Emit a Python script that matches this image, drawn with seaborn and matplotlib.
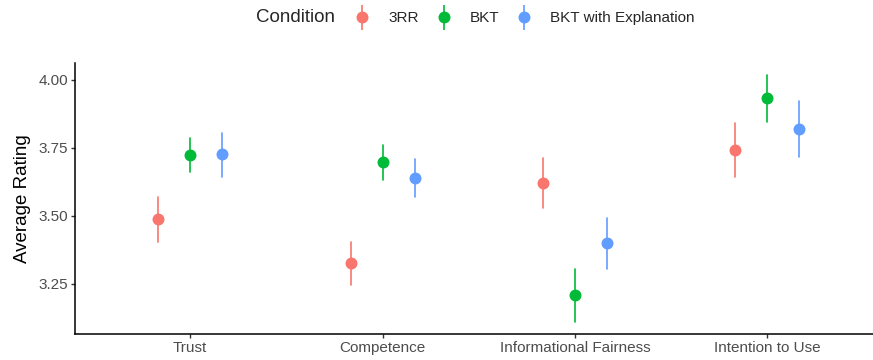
import matplotlib
matplotlib.use("Agg")
import matplotlib.pyplot as plt
from matplotlib.lines import Line2D
from matplotlib.legend_handler import HandlerTuple
import seaborn as sns
import pandas as pd

categories = ["Trust", "Competence", "Informational Fairness", "Intention to Use"]
conditions = ["3RR", "BKT", "BKT with Explanation"]
colors = ["#F8766D", "#00BA38", "#619CFF"]

# per condition, values in category order
means = {
    "3RR": [3.488, 3.326, 3.620, 3.743],
    "BKT": [3.723, 3.697, 3.208, 3.933],
    "BKT with Explanation": [3.727, 3.639, 3.400, 3.820],
}
lows = {
    "3RR": [3.403, 3.246, 3.528, 3.645],
    "BKT": [3.661, 3.632, 3.111, 3.847],
    "BKT with Explanation": [3.644, 3.569, 3.305, 3.718],
}
highs = {
    "3RR": [3.571, 3.404, 3.712, 3.841],
    "BKT": [3.787, 3.761, 3.304, 4.018],
    "BKT with Explanation": [3.806, 3.710, 3.492, 3.924],
}

rows = []
for cond in conditions:
    for i, cat in enumerate(categories):
        for v in (lows[cond][i], means[cond][i], highs[cond][i]):
            rows.append({"Measure": cat, "Condition": cond, "Rating": v})
df = pd.DataFrame(rows)

sns.set_style("ticks")
plt.rcParams["font.family"] = ["Liberation Sans", "DejaVu Sans"]

fig = plt.figure(figsize=(8.73, 3.6), dpi=100)
ax = fig.add_axes([74.7 / 873, 1 - 334 / 360, 1 - 74.7 / 873, (334 - 63) / 360])

sns.pointplot(
    data=df, x="Measure", y="Rating", hue="Condition",
    order=categories, hue_order=conditions, palette=colors,
    estimator="median", errorbar=("pi", 100), dodge=0.333,
    linestyle="none", markers="o", markersize=8.6, markeredgewidth=0,
    err_kws={"linewidth": 1.2}, ax=ax, legend=False,
)

ax.set_xlim(-0.6, (873 - 74.7) / 192.4 - 0.6)
ax.set_ylim(3.066, 4.0625)
ax.set_yticks([3.25, 3.50, 3.75, 4.00])
ax.set_yticklabels(["3.25", "3.50", "3.75", "4.00"])
ax.set_xlabel("")
ax.set_ylabel("Average Rating", fontsize=13.5, color="black", labelpad=5)
for s in ["top", "right"]:
    ax.spines[s].set_visible(False)
for s in ["left", "bottom"]:
    ax.spines[s].set_linewidth(1.1)
    ax.spines[s].set_color("black")
ax.tick_params(axis="both", labelsize=11, labelcolor="#4D4D4D", color="#333333",
               length=3, width=1.0, pad=2)

handles = []
for c in colors:
    handles.append((
        Line2D([], [], marker="|", markersize=18, markeredgewidth=1.2, color=c, linestyle="none"),
        Line2D([], [], marker="o", markersize=8.6, markeredgewidth=0, color=c, linestyle="none"),
    ))
fig.legend(handles, conditions, handler_map={tuple: HandlerTuple(ndivide=1)},
           loc="center left", bbox_to_anchor=(354.4 / 873, 1 - 18 / 360),
           ncol=3, frameon=False, fontsize=11, handlelength=1.0,
           handletextpad=1.2, columnspacing=1.14, borderpad=0, borderaxespad=0)
fig.text(256 / 873, 1 - 18 / 360, "Condition", fontsize=13.5, va="center", ha="left")

fig.savefig("out.png", dpi=100)
